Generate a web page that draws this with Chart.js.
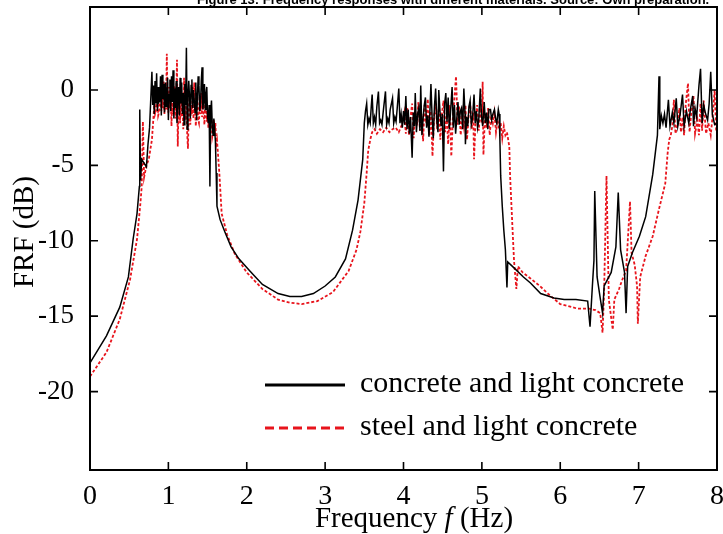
<!DOCTYPE html>
<html>
<head>
<meta charset="utf-8">
<script src="https://cdn.jsdelivr.net/npm/chart.js@4.4.1/dist/chart.umd.min.js"></script>
<style>
  body { margin: 0; background: #fff; }
</style>
</head>
<body>
<canvas id="frf" width="723" height="534"></canvas>
<script>
// values (Hz, dB)
const xTicks = [0, 1, 2, 3, 4, 5, 6, 7, 8];
const yTicks = [0, -5, -10, -15, -20];

const concreteX = [
  0, 0.21, 0.38, 0.49, 0.55, 0.60, 0.63, 0.635, 0.645, 0.66, 0.72, 0.74, 0.76,
  0.79, 0.80, 0.81, 0.82, 0.83, 0.84, 0.85, 0.86, 0.87, 0.88, 0.89, 0.90, 0.91, 0.92, 0.93, 0.94, 0.95, 0.96, 0.97, 0.98,
  0.99, 1.00, 1.01, 1.02, 1.03, 1.04, 1.05, 1.06, 1.07, 1.08, 1.09, 1.10, 1.11, 1.12, 1.13, 1.14, 1.15, 1.16, 1.17, 1.18,
  1.19, 1.20, 1.21, 1.22, 1.23, 1.24, 1.25, 1.26, 1.27, 1.28, 1.29, 1.30, 1.31, 1.32, 1.33, 1.34, 1.35, 1.36, 1.37, 1.38,
  1.39, 1.40, 1.41, 1.42, 1.43, 1.44, 1.45, 1.46, 1.47, 1.48, 1.49, 1.50, 1.51, 1.52, 1.53, 1.54, 1.55, 1.56, 1.57, 1.58,
  1.59, 1.60, 1.61, 1.62,
  1.66, 1.72, 1.80, 1.90, 2.04, 2.20, 2.40, 2.55, 2.70, 2.85, 3.00, 3.13, 3.26, 3.35, 3.42, 3.48,
  3.50, 3.515, 3.53, 3.545, 3.56, 3.575, 3.59, 3.60, 3.615, 3.63, 3.645, 3.66, 3.68, 3.695, 3.71, 3.725, 3.74, 3.77, 3.785, 3.80,
  3.815, 3.83, 3.86, 3.875, 3.89, 3.905, 3.92, 3.94, 3.955, 3.97, 3.985, 4.00, 4.015, 4.03, 4.045, 4.06, 4.075, 4.09, 4.11, 4.125,
  4.14, 4.15, 4.165, 4.18, 4.195, 4.21, 4.22, 4.235, 4.25, 4.265, 4.28, 4.295, 4.31, 4.325, 4.35, 4.365, 4.38, 4.395, 4.41, 4.425,
  4.44, 4.45, 4.465, 4.48, 4.495, 4.51, 4.525, 4.54, 4.555, 4.57, 4.585, 4.60, 4.62, 4.635, 4.65, 4.665, 4.68, 4.695, 4.71, 4.725,
  4.74, 4.755, 4.77, 4.785, 4.79, 4.805, 4.82, 4.835, 4.85, 4.865, 4.88, 4.90, 4.915, 4.93, 4.945, 4.96, 4.98, 4.995, 5.01, 5.03,
  5.045, 5.06, 5.075, 5.09, 5.11, 5.125, 5.14, 5.16, 5.175, 5.19, 5.21, 5.22,
  5.23, 5.24, 5.26, 5.28, 5.30, 5.32, 5.33, 5.41, 5.53, 5.62, 5.75, 5.92, 6.05, 6.20, 6.35,
  6.38, 6.41, 6.43, 6.44, 6.47, 6.51, 6.54, 6.56, 6.65, 6.71, 6.74, 6.77, 6.82, 6.84, 6.86, 6.92, 7.01, 7.09, 7.18, 7.21,
  7.24, 7.26, 7.27, 7.29, 7.31, 7.33, 7.35, 7.38, 7.40, 7.43, 7.45, 7.48, 7.50, 7.53, 7.56, 7.58, 7.61, 7.64, 7.66, 7.69,
  7.70, 7.72, 7.74, 7.77, 7.79, 7.81, 7.83, 7.85, 7.88, 7.90, 7.92, 7.94, 7.97, 8.0
];
const concreteY = [
  -18.1, -16.3, -14.4, -12.4, -9.9, -8.2, -6.4, -1.3, -6.0, -4.6, -5.1, -3.6, -2.5,
  1.2, -1.0, 0.3, -1.6, 0.6, -0.9, 1.1, -1.4, 0.2, -0.8, -0.7, 0.9, -1.7, 1.0, -0.6, 0.4, -1.5, 0.5, -1.1, 0,
  0.8, -2.0, -0.3, 0.7, -1.4, 0.9, -0.8, 1.3, -1.9, 0.1, -1.2, 0.6, -2.2, -0.5, 0.2, -1.7, 0.8, -0.9, 0.5, -1.6,
  -0.2, -2.3, 0.4, -1.0, 2.8, -2.6, -0.4, 0.6, -0.5, -1.9, 0.3, 0.7, -1.2, 0, -0.7, -1.5, 0.5, -2.0, -0.6, 0.9,
  0.3, -1.4, -1.0, 0.6, 1.5, -1.3, -0.7, 0.4, -1.3, -0.3, 0.2, -1.8, -2.2, -1.0, -6.4, -1.5, -0.7, -2.4, -3.0, -1.9,
  -2.6, -3.4, -5.5, -7.7,
  -8.6, -9.4, -10.4, -11.2, -12.0, -12.9, -13.5, -13.7, -13.7, -13.5, -13.0, -12.4, -11.2, -9.3, -7.3, -4.6,
  -2.2, -1.4, -0.9, -2.3, -1.9, -2.2, -1.0, -0.3, -2.2, -1.8, -2.3, -1.1, -0.1, -2.2, -2.0, -2.3, -1.5, -0.1, -2.3, -1.9,
  -2.2, -1.3, -0.55, -2.2, -1.8, -2.1, -1.2, 0.1, -2.2, -1.6, -2.5, -1.4, -2.3, -0.4, -2.6, -1.3, -2.9, -1.8, -4.5, -1.5,
  -2.4, -0.2, -2.8, -1.6, -1.2, -2.7, 0.3, -3.0, -1.9, -1.0, -0.5, -2.5, -1.7, -3.1, 0.4, -1.8, -3.2, -1.1, 0.1, -2.0,
  -2.8, 0, -1.4, -2.4, -1.6, -5.4, -0.9, -0.2, -2.1, -0.5, -2.6, -1.5, 0.2, -2.5, -1.0, -2.9, -1.9, -0.8, -2.3, -1.4,
  -1.2, -2.6, 0.1, -1.6, -3.6, -1.8, -2.4, -1.1, -0.7, -2.3, -1.9, -0.3, -2.2, -1.4, -2.5, -2.0, 0.1, -1.7, -2.4, -0.8,
  -2.2, -1.5, -2.6, -1.3, -1.3, -2.0, -1.6, -1.3, -1.9, -2.2, -1.3, -1.6,
  -3.3, -5.7, -7.7, -9.3, -10.6, -13.1, -11.4, -11.8, -12.4, -12.8, -13.5, -13.8, -13.9, -13.9, -14.0,
  -15.7, -13.0, -11.3, -6.7, -12.4, -13.8, -14.8, -13.0, -12.1, -10.4, -6.8, -10.6, -12.1, -14.8, -11.7, -10.8, -9.7, -8.4, -5.6, -4.3,
  -3.0, 0.9, -2.6, -1.7, -2.2, -1.6, -2.5, -0.66, -2.4, -1.5, -2.2, -0.55, -2.4, -1.6, -0.3, -2.4, -1.4, -2.2, -1.3, -0.4,
  -2.4, -1.2, -1.8, 0.3, 1.4, -2.2, -1.0, -1.5, -2.0, -0.9, 1.2, -1.6, -2.3, -2.2
];

const steelX = [
  0, 0.21, 0.38, 0.51, 0.60, 0.64, 0.66, 0.675, 0.69, 0.72, 0.75, 0.79,
  0.81, 0.82, 0.83, 0.84, 0.85, 0.86, 0.87, 0.88, 0.89, 0.90, 0.91, 0.92, 0.93, 0.94, 0.95, 0.96, 0.97, 0.98, 0.99, 1.00,
  1.01, 1.02, 1.03, 1.04, 1.05, 1.06, 1.07, 1.08, 1.09, 1.10, 1.11, 1.12, 1.13, 1.14, 1.15, 1.16, 1.17, 1.18, 1.19, 1.20,
  1.21, 1.22, 1.23, 1.24, 1.25, 1.26, 1.27, 1.28, 1.29, 1.30, 1.31, 1.32, 1.33, 1.34, 1.35, 1.36, 1.37, 1.38, 1.39, 1.40,
  1.41, 1.42, 1.43, 1.44, 1.45, 1.46, 1.47, 1.48, 1.49, 1.50, 1.51, 1.52, 1.53, 1.54, 1.55, 1.56, 1.57, 1.58, 1.59, 1.60,
  1.61, 1.62, 1.65, 1.68,
  1.75, 1.85, 2.00, 2.20, 2.40, 2.55, 2.70, 2.90, 3.10, 3.30, 3.40, 3.45, 3.50, 3.53, 3.55, 3.58,
  3.60, 3.63, 3.66, 3.70, 3.74, 3.78, 3.82, 3.86, 3.90, 3.94, 3.98, 4.01, 4.03, 4.05, 4.07, 4.09, 4.11, 4.13, 4.15, 4.17,
  4.19, 4.21, 4.23, 4.25, 4.27, 4.29, 4.31, 4.33, 4.35, 4.37, 4.39, 4.41, 4.43, 4.45, 4.47, 4.49, 4.51, 4.53, 4.55, 4.57,
  4.59, 4.61, 4.63, 4.65, 4.67, 4.69, 4.71, 4.73, 4.75, 4.77, 4.79, 4.81, 4.83, 4.85, 4.87, 4.89, 4.90, 4.92, 4.94, 4.96,
  4.98, 5.00, 5.01, 5.02, 5.04, 5.06, 5.08, 5.10, 5.12, 5.14, 5.16, 5.18, 5.20, 5.22, 5.24, 5.26, 5.28, 5.30, 5.32, 5.35,
  5.36, 5.39, 5.41, 5.44, 5.46, 5.52, 5.62, 5.74, 5.84, 6.00, 6.22, 6.37,
  6.45, 6.51, 6.54, 6.56, 6.59, 6.62, 6.67, 6.69, 6.75, 6.79, 6.84, 6.89, 6.91, 6.95, 6.98, 6.99, 7.02, 7.09, 7.18, 7.26,
  7.34, 7.37, 7.39, 7.41, 7.43, 7.45, 7.47, 7.50, 7.52, 7.54, 7.56, 7.58, 7.60, 7.63, 7.65, 7.67, 7.70, 7.72, 7.75, 7.77,
  7.79, 7.81, 7.83, 7.86, 7.89, 7.92, 7.95, 7.97, 7.99, 8.0
];
const steelY = [
  -19.0, -17.4, -15.2, -12.6, -9.9, -7.7, -6.4, -2.1, -5.8, -5.0, -4.6, -3.3,
  -1.8, -1.0, -1.6, -1.4, -0.4, -0.6, -1.7, -1.5, -0.2, -0.3, -1.4, -0.8, -1.2, 0.6, -1.6, -0.5, -1.3, 2.4, -1.1, -1.5,
  0.2, -1.2, -0.4, -2.4, 0.5, -1.6, -0.7, 0.3, -1.9, -0.6, 2.0, -3.75, -0.9, -1.0, -2.2, 0.1, -1.8, -0.8, -2.6, 0.8,
  -1.1, -2.0, -0.7, -2.9, -3.9, -1.3, -0.5, -2.3, -1.0, -1.6, 0.2, -1.9, 0.5, -1.1, -2.4, -1.3, -0.4, -2.0, -2.2, -0.9,
  -1.6, -0.2, -1.8, -1.0, -1.5, -2.3, -0.8, -1.1, -2.1, -1.4, -2.5, -1.7, -2.6, -1.6, -2.0, -3.1, -2.8, -2.0, -3.0, -2.2,
  -3.6, -3.3, -5.5, -8.2,
  -9.6, -10.9, -12.1, -13.2, -13.9, -14.1, -14.2, -14.0, -13.4, -12.0, -10.6, -9.4, -7.5, -5.5, -4.0, -3.2,
  -2.8, -2.6, -2.9, -2.6, -2.8, -2.5, -2.8, -2.6, -2.5, -2.8, -2.3, -1.5, -2.9, -1.2, -3.0, -1.8, -0.9, -3.2, -1.4, -2.4,
  -0.8, -2.7, -1.6, -3.4, -1.0, -2.2, -0.6, -3.0, -1.4, -4.4, -1.8, -0.9, -2.6, -1.2, -3.3, -1.6, -0.7, -2.8, -1.5, -3.6,
  -1.0, -4.4, -1.9, -0.5, 0.9, -2.3, -1.1, -3.0, -1.6, -2.4, -1.0, -3.3, -1.8, -0.8, -2.6, -1.5, -4.6, -2.0, -1.0, -2.7,
  -1.4, -2.2, 0.55, -4.3, -1.6, -2.5, -1.2, -3.0, -1.7, -2.2, -1.5, -2.8, -2.0, -2.6, -2.2, -3.2, -2.4, -3.0, -2.8, -3.75,
  -5.7, -9.1, -11.3, -13.2, -11.7, -12.1, -12.5, -13.0, -13.5, -14.2, -14.5, -14.5,
  -14.6, -14.8, -16.1, -13.3, -5.7, -13.9, -15.9, -13.9, -13.2, -12.6, -12.0, -7.4, -10.8, -11.6, -13.0, -15.5, -12.4, -11.0, -9.7, -7.9,
  -6.2, -4.2, -3.3, -3.0, -2.4, -0.66, -2.9, -2.2, -1.2, -2.8, -1.8, -3.0, -1.0, 0.44, -2.8, -1.6, -0.4, -2.9, -2.0, -3.0,
  -0.9, -2.7, -0.7, -2.9, -2.2, -3.0, -1.4, 0, -2.8, -2.8
];

const toPoints = (xs, ys) => xs.map((x, i) => ({ x: x, y: ys[i] }));

const serif = '"Liberation Serif", "DejaVu Serif", serif';

// frame, inward ticks, axis titles, legend and the clipped caption
const framePlugin = {
  id: 'frame',
  afterDraw(chart) {
    const { ctx, chartArea: a, scales } = chart;
    const len = 8;
    ctx.save();
    ctx.strokeStyle = '#000';
    ctx.lineWidth = 2;
    ctx.strokeRect(a.left, a.top, a.right - a.left, a.bottom - a.top);
    ctx.lineWidth = 1.6;
    ctx.beginPath();
    xTicks.slice(1, -1).forEach(v => {
      const px = scales.x.getPixelForValue(v);
      ctx.moveTo(px, a.bottom); ctx.lineTo(px, a.bottom - len);
      ctx.moveTo(px, a.top); ctx.lineTo(px, a.top + len);
    });
    yTicks.forEach(v => {
      const py = scales.y.getPixelForValue(v);
      ctx.moveTo(a.left, py); ctx.lineTo(a.left + len, py);
      ctx.moveTo(a.right, py); ctx.lineTo(a.right - len, py);
    });
    ctx.stroke();

    ctx.fillStyle = '#000';
    ctx.textBaseline = 'middle';

    // x title with italic f
    const parts = [['Frequency ', ''], ['f', 'italic '], [' (Hz)', '']];
    let total = 0;
    parts.forEach(p => { ctx.font = p[1] + '29px ' + serif; total += ctx.measureText(p[0]).width; });
    let tx = 414 - total / 2;
    parts.forEach(p => {
      ctx.font = p[1] + '29px ' + serif;
      ctx.fillText(p[0], tx, 519);
      tx += ctx.measureText(p[0]).width;
    });

    // y title
    ctx.save();
    ctx.translate(25, 232);
    ctx.rotate(-Math.PI / 2);
    ctx.textAlign = 'center';
    ctx.font = '29px ' + serif;
    ctx.fillText('FRF (dB)', 0, 0);
    ctx.restore();

    // legend
    ctx.lineWidth = 3;
    ctx.strokeStyle = '#000';
    ctx.beginPath(); ctx.moveTo(265, 385); ctx.lineTo(345, 385); ctx.stroke();
    ctx.strokeStyle = '#e8141c';
    ctx.setLineDash([9, 5]);
    ctx.beginPath(); ctx.moveTo(265, 428); ctx.lineTo(345, 428); ctx.stroke();
    ctx.setLineDash([]);
    ctx.font = '30px ' + serif;
    ctx.fillText('concrete and light concrete', 360, 384);
    ctx.fillText('steel and light concrete', 360, 427);

    ctx.font = 'bold 13px "Liberation Sans", Arial, sans-serif';
    ctx.textBaseline = 'alphabetic';
    ctx.fillText('Figure 13: Frequency responses with different materials. Source: Own preparation.', 197, 4);
    ctx.restore();
  }
};

new Chart(document.getElementById('frf'), {
  type: 'line',
  data: {
    datasets: [
      {
        label: 'concrete and light concrete',
        data: toPoints(concreteX, concreteY),
        borderColor: '#000',
        borderWidth: 1.5,
        pointRadius: 0,
        tension: 0,
      },
      {
        label: 'steel and light concrete',
        data: toPoints(steelX, steelY),
        borderColor: '#e8141c',
        borderWidth: 1.8,
        borderDash: [3, 2],
        pointRadius: 0,
        tension: 0,
      },
    ],
  },
  options: {
    responsive: false,
    animation: false,
    layout: { padding: { top: 7, right: 6, left: 0, bottom: 0 } },
    plugins: {
      legend: { display: false },
      tooltip: { enabled: false },
    },
    scales: {
      x: {
        type: 'linear',
        min: 0,
        max: 8,
        afterBuildTicks: s => { s.ticks = xTicks.map(v => ({ value: v })); },
        afterFit: s => { s.height = 64; s.paddingLeft = 0; s.paddingRight = 0; },
        grid: { display: false },
        border: { display: false },
        ticks: { color: '#000', font: { family: serif, size: 28 }, padding: 2, maxRotation: 0 },
      },
      y: {
        type: 'linear',
        min: -25.2,
        max: 5.5,
        afterBuildTicks: s => { s.ticks = yTicks.map(v => ({ value: v })); },
        afterFit: s => { s.width = 90; s.paddingTop = 0; s.paddingBottom = 0; },
        grid: { display: false },
        border: { display: false },
        ticks: { color: '#000', font: { family: serif, size: 27 }, padding: 8 },
      },
    },
  },
  plugins: [framePlugin],
});
</script>
</body>
</html>
